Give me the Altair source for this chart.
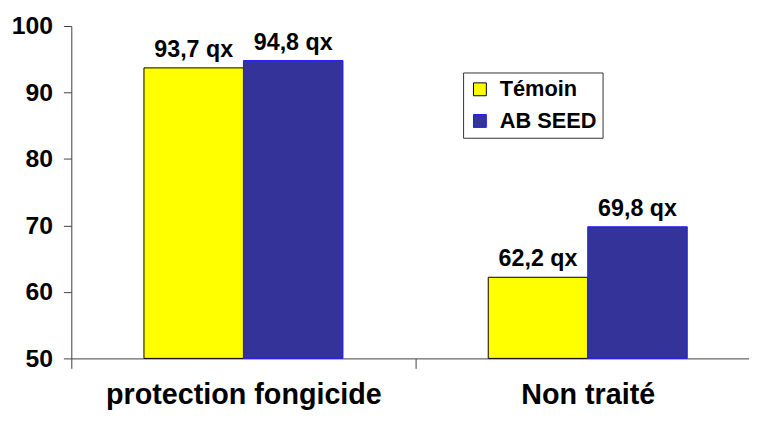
import altair as alt
import pandas as pd

categories = ["protection fongicide", "Non traité"]
series = ["Témoin", "AB SEED"]
temoin = [93.7, 62.2]
ab_seed = [94.8, 69.8]

rows = []
for i, c in enumerate(categories):
    rows.append({"categorie": c, "serie": series[0], "valeur": temoin[i]})
    rows.append({"categorie": c, "serie": series[1], "valeur": ab_seed[i]})
df = pd.DataFrame(rows)

FONT = "Liberation Sans"
AXIS_COLOR = "#404040"

x_enc = alt.X(
    "categorie:N",
    sort=categories,
    scale=alt.Scale(range=[0, 696], paddingInner=0, paddingOuter=0),
    axis=alt.Axis(
        title=None,
        labelAngle=0,
        labelFont=FONT,
        labelFontSize=29,
        labelFontWeight="bold",
        labelColor="black",
        labelBaseline="alphabetic",
        labelPadding=36,
        labelLimit=0,
        tickSize=10,
        tickBand="extent",
        tickColor=AXIS_COLOR,
        domainColor=AXIS_COLOR,
        grid=False,
    ),
)
xoff_enc = alt.XOffset(
    "serie:N", sort=series, scale=alt.Scale(paddingInner=0, paddingOuter=0.73)
)

base = alt.Chart(df).encode(x=x_enc, xOffset=xoff_enc)

legend = alt.Legend(
    title=None,
    orient="none",
    legendX=396,
    legendY=47,
    strokeColor="#333333",
    fillColor="white",
    padding=6,
    labelFont=FONT,
    labelFontSize=22,
    labelFontWeight="bold",
    labelColor="black",
    labelOffset=9,
    labelLimit=0,
    symbolType="square",
    symbolSize=169,
    symbolStrokeWidth=1,
    symbolOpacity=1,
    rowPadding=10,
)

bars = base.mark_bar(strokeWidth=1, opacity=1).encode(
    y=alt.Y(
        "valeur:Q",
        scale=alt.Scale(domain=[50, 100], zero=False, nice=False),
        axis=alt.Axis(
            title=None,
            values=[50, 60, 70, 80, 90, 100],
            labelFont=FONT,
            labelFontSize=25,
            labelFontWeight="bold",
            labelColor="black",
            labelPadding=11,
            tickSize=8,
            tickColor=AXIS_COLOR,
            domainColor=AXIS_COLOR,
            grid=False,
        ),
    ),
    y2=alt.datum(50),
    fill=alt.Fill(
        "serie:N",
        sort=series,
        scale=alt.Scale(domain=series, range=["#FFFF00", "#333399"]),
        legend=legend,
    ),
    stroke=alt.Stroke(
        "serie:N",
        sort=series,
        scale=alt.Scale(domain=series, range=["#000000", "#1a1aff"]),
        legend=legend,
    ),
)

labels = base.transform_calculate(
    label="replace(format(datum.valeur, '.1f'), '.', ',') + ' qx'"
).mark_text(
    font=FONT,
    fontSize=23.5,
    fontWeight="bold",
    color="black",
    baseline="alphabetic",
    dy=-11,
).encode(
    y=alt.Y("valeur:Q"),
    text="label:N",
)

chart = (
    alt.layer(bars, labels)
    .properties(
        width=685,
        height=336,
        autosize=alt.AutoSizeParams(type="none"),
        padding={"left": 64, "top": 16, "right": 0, "bottom": 53},
        background="white",
    )
    .configure_view(stroke=None)
)

chart.save("out.html", embed_options={"renderer": "svg", "actions": False})
